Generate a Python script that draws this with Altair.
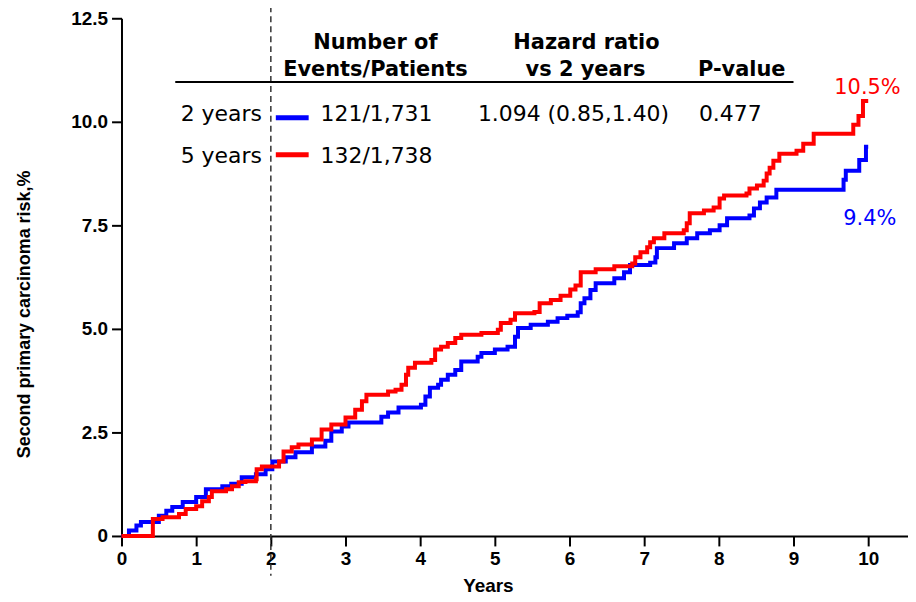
import altair as alt
import pandas as pd

# ---------------- data ----------------
group_names = ["2 years", "5 years"]
group_colors = ["#0000ff", "#ff0000"]

years_2y = [0, 0.1, 0.2, 0.26, 0.5, 0.6, 0.68, 0.82, 1.0, 1.13, 1.35, 1.47, 1.61, 1.8, 1.93,
            2.02, 2.2, 2.33, 2.55, 2.73, 2.81, 2.95, 3.04, 3.48, 3.57, 3.71, 4.01, 4.07, 4.13,
            4.24, 4.28, 4.37, 4.47, 4.55, 4.77, 4.82, 5.0, 5.17, 5.27, 5.31, 5.48, 5.71, 5.84,
            5.97, 6.11, 6.15, 6.2, 6.28, 6.35, 6.6, 6.73, 6.81, 7.08, 7.15, 7.17, 7.4, 7.57,
            7.71, 7.88, 8.01, 8.11, 8.41, 8.47, 8.55, 8.64, 8.77, 9.67, 9.7, 9.88, 9.97, 10.0]
risk_2y = [0, 0.13, 0.25, 0.34, 0.49, 0.61, 0.70, 0.82, 0.94, 1.13, 1.20, 1.26, 1.42, 1.49, 1.61,
           1.80, 1.90, 2.02, 2.16, 2.30, 2.52, 2.64, 2.74, 2.88, 2.98, 3.10, 3.17, 3.37, 3.58,
           3.65, 3.77, 3.89, 4.01, 4.21, 4.33, 4.42, 4.50, 4.57, 4.81, 5.02, 5.10, 5.17, 5.26,
           5.32, 5.40, 5.62, 5.74, 5.94, 6.10, 6.22, 6.37, 6.54, 6.60, 6.73, 6.95, 7.07, 7.19,
           7.31, 7.38, 7.50, 7.67, 7.74, 7.91, 8.05, 8.17, 8.36, 8.60, 8.82, 9.08, 9.40, 9.40]

years_5y = [0, 0.42, 0.55, 0.77, 0.86, 1.0, 1.08, 1.17, 1.21, 1.4, 1.48, 1.57, 1.66, 1.8, 1.81,
            1.88, 2.11, 2.17, 2.28, 2.37, 2.55, 2.68, 2.81, 3.0, 3.13, 3.22, 3.28, 3.57, 3.67,
            3.75, 3.81, 3.84, 3.93, 4.15, 4.2, 4.28, 4.37, 4.47, 4.55, 4.82, 5.04, 5.08, 5.21,
            5.27, 5.53, 5.6, 5.75, 5.88, 6.01, 6.08, 6.15, 6.35, 6.6, 6.84, 6.88, 6.95, 7.04,
            7.08, 7.13, 7.27, 7.53, 7.57, 7.61, 7.8, 7.93, 8.01, 8.07, 8.37, 8.41, 8.51, 8.6,
            8.64, 8.68, 8.73, 8.81, 9.04, 9.13, 9.27, 9.8, 9.87, 9.93, 10.0]
risk_5y = [0, 0.41, 0.45, 0.53, 0.65, 0.72, 0.84, 0.94, 1.08, 1.13, 1.20, 1.30, 1.32, 1.37, 1.61,
           1.68, 1.80, 2.04, 2.14, 2.21, 2.33, 2.57, 2.69, 2.86, 3.05, 3.25, 3.41, 3.49, 3.53,
           3.65, 3.89, 4.06, 4.18, 4.25, 4.50, 4.57, 4.66, 4.78, 4.86, 4.90, 4.98, 5.14, 5.22,
           5.38, 5.41, 5.62, 5.70, 5.80, 5.95, 6.05, 6.37, 6.44, 6.51, 6.58, 6.73, 6.85, 6.97,
           7.09, 7.19, 7.31, 7.38, 7.55, 7.79, 7.86, 7.93, 8.15, 8.22, 8.27, 8.39, 8.46, 8.58,
           8.75, 8.89, 9.06, 9.23, 9.30, 9.47, 9.71, 9.93, 10.14, 10.50, 10.50]

x_ticks = [0, 1, 2, 3, 4, 5, 6, 7, 8, 9, 10]
y_ticks = [0, 2.5, 5.0, 7.5, 10.0, 12.5]
cutoff_year = [2]

header_col1 = ["Number of", "Events/Patients"]
header_col2 = ["Hazard ratio", "vs 2 years"]
header_col3 = ["P-value"]
events_patients = ["121/1,731", "132/1,738"]
hazard_ratio = ["1.094 (0.85,1.40)"]
p_value = ["0.477"]
end_labels = ["9.4%", "10.5%"]

# ---------------- layout ----------------
W, H = 790, 520
TABLE_FONT = "DejaVu Sans"
AXIS_FONT = "Liberation Sans"

x_scale = alt.Scale(domain=[0, 10.533], nice=False, zero=False)
y_scale = alt.Scale(domain=[0, 12.5], nice=False)

x_axis = alt.Axis(values=x_ticks, format="d", title="Years", grid=False, labelFlush=False,
                  titleX=368, titleY=56, titleBaseline="alphabetic", titleAlign="center")
y_axis = alt.Axis(values=y_ticks, grid=False, title="Second primary carcinoma risk,%", labelFlush=False,
                  labelExpr="datum.value == 0 ? '0' : format(datum.value, '.1f')",
                  titleX=-97, titleY=297, titleBaseline="middle", titleAlign="center", titleAngle=270)

curves = pd.concat([
    pd.DataFrame({"t": years_2y, "risk": risk_2y, "group": group_names[0]}),
    pd.DataFrame({"t": years_5y, "risk": risk_5y, "group": group_names[1]}),
])


def curve_layer(name, color):
    return alt.Chart(curves[curves["group"] == name]).mark_line(
        interpolate="step-after", color=color, strokeWidth=4, strokeJoin="miter", strokeCap="butt"
    ).encode(
        x=alt.X("t:Q", scale=x_scale, axis=x_axis),
        y=alt.Y("risk:Q", scale=y_scale, axis=y_axis),
    )


cut_rule = alt.Chart(pd.DataFrame({"t": cutoff_year})).mark_rule(
    color="#333333", strokeWidth=1.5, strokeDash=[6, 4]
).encode(
    x=alt.X("t:Q", scale=x_scale, axis=x_axis),
    y=alt.value(-12), y2=alt.value(560),
)


def text_layer(label, px, py, align="left", size=21, weight="normal", color="black", font=TABLE_FONT):
    return alt.Chart(pd.DataFrame({"label": [label]})).mark_text(
        align=align, baseline="alphabetic", font=font, fontSize=size, fontWeight=weight, color=color
    ).encode(x=alt.value(px), y=alt.value(py), text="label:N")


def seg_layer(x1, x2, y, color, width):
    return alt.Chart(pd.DataFrame({"k": [0]})).mark_rule(color=color, strokeWidth=width).encode(
        x=alt.value(x1), x2=alt.value(x2), y=alt.value(y)
    )


layers = [
    cut_rule,
    curve_layer(group_names[0], group_colors[0]),
    curve_layer(group_names[1], group_colors[1]),
    # table header
    text_layer(header_col1[0], 255, 31, "center", 21, "bold"),
    text_layer(header_col1[1], 255, 58, "center", 21, "bold"),
    text_layer(header_col2[0], 467, 31, "center", 21, "bold"),
    text_layer(header_col2[1], 466, 58, "center", 21, "bold"),
    text_layer(header_col3[0], 623, 58, "center", 21, "bold"),
    seg_layer(54, 675, 64, "black", 2),
    # rows
    text_layer(group_names[0], 141, 103, "right", 22),
    text_layer(group_names[1], 141, 145, "right", 22),
    seg_layer(155, 188, 100, group_colors[0], 5),
    seg_layer(155, 188, 137, group_colors[1], 5),
    text_layer(events_patients[0], 200, 103, "left", 22),
    text_layer(events_patients[1], 200, 145, "left", 22),
    text_layer(hazard_ratio[0], 358, 103, "left", 22),
    text_layer(p_value[0], 580, 103, "left", 22),
    # end labels
    text_layer(end_labels[1], 716, 76, "left", 21, "normal", group_colors[1]),
    text_layer(end_labels[0], 725, 208, "left", 21, "normal", group_colors[0]),
]

chart = alt.layer(*layers).properties(
    width=W, height=H,
    autosize=alt.AutoSizeParams(type="none"),
    padding={"left": 114, "top": 9, "right": 0, "bottom": 62},
).configure_view(stroke=None).configure_axis(
    domainColor="black", domainWidth=2, tickColor="black", tickWidth=2, tickSize=10,
    labelFont=AXIS_FONT, labelFontWeight="bold", labelFontSize=19, labelColor="black",
    labelPadding=4, titleFont=AXIS_FONT, titleFontWeight="bold", titleColor="black",
).configure_axisX(titleFontSize=19).configure_axisY(titleFontSize=18)

chart.save("out.html", embed_options={"renderer": "svg", "actions": False})
